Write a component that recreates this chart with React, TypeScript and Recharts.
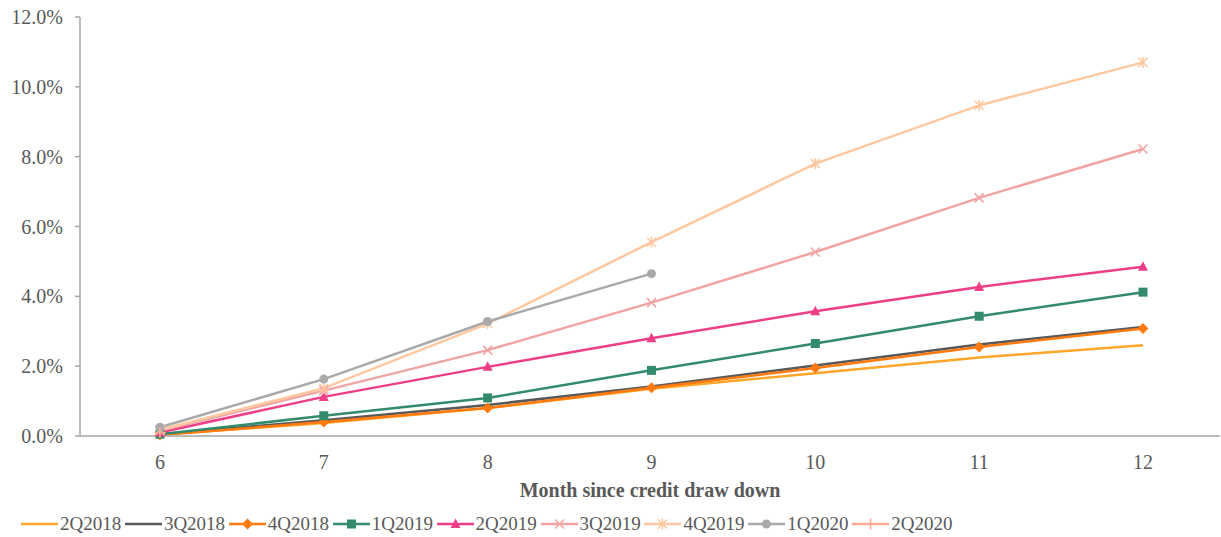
import React from 'react';
import { LineChart, Line, XAxis, YAxis, Legend } from 'recharts';

const months = [6, 7, 8, 9, 10, 11, 12];
const s2Q2018 = [0.04, 0.37, 0.8, 1.35, 1.8, 2.25, 2.6];
const s3Q2018 = [0.05, 0.45, 0.89, 1.42, 2.02, 2.62, 3.12];
const s4Q2018 = [0.03, 0.4, 0.8, 1.38, 1.95, 2.55, 3.08];
const s1Q2019 = [0.05, 0.58, 1.09, 1.88, 2.65, 3.43, 4.12];
const s2Q2019 = [0.1, 1.12, 1.98, 2.8, 3.57, 4.27, 4.85];
const s3Q2019 = [0.15, 1.3, 2.46, 3.82, 5.27, 6.82, 8.22];
const s4Q2019 = [0.18, 1.37, 3.22, 5.55, 7.8, 9.47, 10.7];
const s1Q2020 = [0.25, 1.63, 3.28, 4.65, null, null, null];
const s2Q2020 = [0.1, null, null, null, null, null, null];
const yTicks = [0, 2, 4, 6, 8, 10, 12];

const FONT = '"Liberation Serif", "Times New Roman", Times, "DejaVu Serif", serif';

type Shape = 'none' | 'diamond' | 'square' | 'triangle' | 'x' | 'star' | 'circle' | 'plus';

const series: { key: string; values: (number | null)[]; color: string; shape: Shape }[] = [
  { key: '2Q2018', values: s2Q2018, color: '#FFA62B', shape: 'none' },
  { key: '3Q2018', values: s3Q2018, color: '#595959', shape: 'none' },
  { key: '4Q2018', values: s4Q2018, color: '#FF7B0F', shape: 'diamond' },
  { key: '1Q2019', values: s1Q2019, color: '#348B6C', shape: 'square' },
  { key: '2Q2019', values: s2Q2019, color: '#EE3F86', shape: 'triangle' },
  { key: '3Q2019', values: s3Q2019, color: '#F2A4A4', shape: 'x' },
  { key: '4Q2019', values: s4Q2019, color: '#FFC8A0', shape: 'star' },
  { key: '1Q2020', values: s1Q2020, color: '#A9A9A9', shape: 'circle' },
  { key: '2Q2020', values: s2Q2020, color: '#FFAA96', shape: 'plus' },
];

const data = months.map((m, i) => {
  const row: Record<string, number | null> = { month: m };
  series.forEach((s) => {
    row[s.key] = s.values[i];
  });
  return row;
});

function marker(shape: Shape, color: string, cx: number, cy: number, k?: string | number) {
  switch (shape) {
    case 'diamond':
      return <polygon key={k} points={`${cx},${cy - 5.5} ${cx + 5.5},${cy} ${cx},${cy + 5.5} ${cx - 5.5},${cy}`} fill={color} />;
    case 'square':
      return <rect key={k} x={cx - 4.5} y={cy - 4.5} width={9} height={9} fill={color} />;
    case 'triangle':
      return <polygon key={k} points={`${cx},${cy - 5.5} ${cx + 5},${cy + 4} ${cx - 5},${cy + 4}`} fill={color} />;
    case 'x':
      return (
        <g key={k} stroke={color} strokeWidth={1.5}>
          <line x1={cx - 4.5} y1={cy - 4.5} x2={cx + 4.5} y2={cy + 4.5} />
          <line x1={cx - 4.5} y1={cy + 4.5} x2={cx + 4.5} y2={cy - 4.5} />
        </g>
      );
    case 'star':
      return (
        <g key={k} stroke={color} strokeWidth={1.5}>
          <line x1={cx - 4.5} y1={cy - 4.5} x2={cx + 4.5} y2={cy + 4.5} />
          <line x1={cx - 4.5} y1={cy + 4.5} x2={cx + 4.5} y2={cy - 4.5} />
          <line x1={cx} y1={cy - 5.5} x2={cx} y2={cy + 5.5} />
        </g>
      );
    case 'circle':
      return <circle key={k} cx={cx} cy={cy} r={4.5} fill={color} />;
    case 'plus':
      return (
        <g key={k} stroke={color} strokeWidth={1.5}>
          <line x1={cx - 5.5} y1={cy} x2={cx + 5.5} y2={cy} />
          <line x1={cx} y1={cy - 5.5} x2={cx} y2={cy + 5.5} />
        </g>
      );
    default:
      return <g key={k} />;
  }
}

const makeDot = (shape: Shape, color: string) => (props: any) => {
  const { cx, cy, value, index } = props;
  if (cx == null || cy == null || value == null || (Array.isArray(value) && value[1] == null)) {
    return <g key={`e${index}`} />;
  }
  return marker(shape, color, cx, cy, `d${index}`);
};

const LegendContent = () => (
  <div style={{ height: 31, position: 'relative', fontFamily: FONT, fontSize: 19, color: '#595959' }}>
    {series.map((s, i) => (
      <div
        key={s.key}
        style={{ position: 'absolute', left: 21 + i * 103.9, top: 8, display: 'flex', alignItems: 'center', whiteSpace: 'nowrap', lineHeight: '20px' }}
      >
        <svg width={37} height={14} style={{ marginRight: 2 }}>
          <line x1={0} y1={7} x2={37} y2={7} stroke={s.color} strokeWidth={2.5} />
          {s.shape !== 'none' && marker(s.shape, s.color, 18.5, 7)}
        </svg>
        <span style={{ fontFamily: FONT }}>{s.key}</span>
      </div>
    ))}
  </div>
);

export default function App() {
  return (
    <div style={{ position: 'absolute', left: 0, top: 0, width: 1221, height: 537, background: '#fff', fontFamily: FONT }}>
      <LineChart width={1221} height={537} data={data} margin={{ top: 17, right: 1, bottom: 0, left: 0 }} style={{ fontFamily: FONT }}>
        <XAxis
          dataKey="month"
          type="number"
          domain={[5.512, 12.47]}
          ticks={months}
          allowDataOverflow
          tickLine={false}
          tickSize={0}
          tickMargin={19}
          height={70}
          axisLine={{ stroke: '#A6A6A6', strokeWidth: 1.5 }}
          tick={{ fill: '#595959', fontSize: 20, fontFamily: FONT }}
          label={{
            value: 'Month since credit draw down',
            position: 'insideBottom',
            offset: 9,
            fill: '#595959',
            fontSize: 20,
            fontWeight: 'bold',
            fontFamily: FONT,
          }}
        />
        <YAxis
          domain={[0, 12]}
          ticks={yTicks}
          width={80}
          tickSize={5}
          tickMargin={12}
          axisLine={{ stroke: '#A6A6A6', strokeWidth: 1.5 }}
          tickLine={{ stroke: '#A6A6A6', strokeWidth: 1.5 }}
          tickFormatter={(v: number) => `${v.toFixed(1)}%`}
          tick={{ fill: '#595959', fontSize: 20, fontFamily: FONT }}
        />
        <Legend verticalAlign="bottom" content={<LegendContent />} wrapperStyle={{ left: 0, width: 1221 }} />
        {series.map((s) => (
          <Line
            key={s.key}
            dataKey={s.key}
            stroke={s.color}
            strokeWidth={2.5}
            dot={s.shape === 'none' ? false : makeDot(s.shape, s.color)}
            activeDot={false}
            isAnimationActive={false}
            connectNulls={false}
          />
        ))}
      </LineChart>
    </div>
  );
}
